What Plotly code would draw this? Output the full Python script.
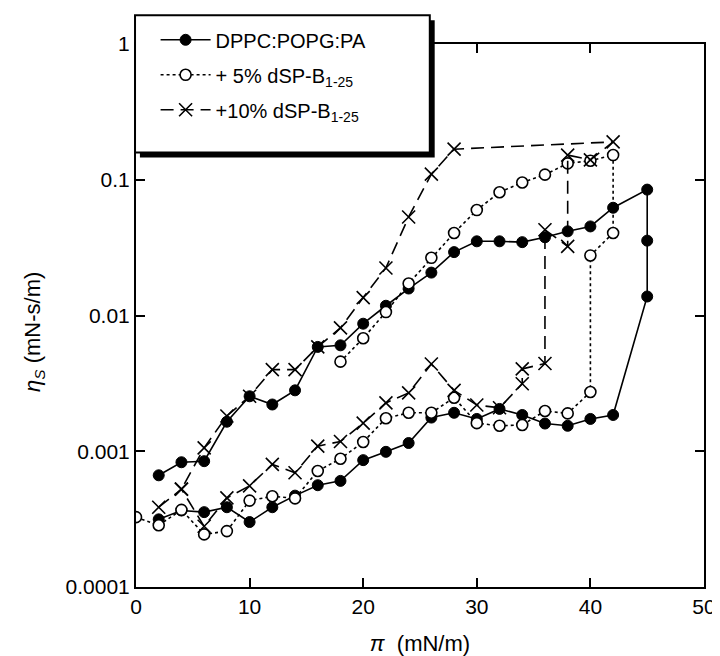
import plotly.graph_objects as go

# DPPC:POPG:PA (lower branch, jump at 45, upper branch back)
black_x = [2, 4, 6, 8, 10, 12, 14, 16, 18, 20, 22, 24, 26, 28, 30, 32, 34, 36, 38, 40, 42,
           45, 45, 45,
           42, 40, 38, 36, 34, 32, 30, 28, 26, 24, 22, 20, 18, 16, 14, 12, 10, 8, 6, 4, 2]
black_y = [0.000315, 0.000366, 0.000356, 0.000387, 0.000301, 0.000387, 0.000471, 0.000562,
           0.000605, 0.00086, 0.00099, 0.00115, 0.00177, 0.00192, 0.00173, 0.00205, 0.00185,
           0.0016, 0.00154, 0.00173, 0.00185,
           0.0138, 0.0356, 0.0846,
           0.0622, 0.0453, 0.0417, 0.0377, 0.0347, 0.0352, 0.0352, 0.0293, 0.0207, 0.0158,
           0.0118, 0.0087, 0.00603, 0.00587, 0.00281, 0.00221, 0.00254, 0.00165, 0.000845,
           0.00083, 0.000665]

# + 5% dSP-B1-25
white_x = [0, 2, 4, 6, 8, 10, 12, 14, 16, 18, 20, 22, 24, 26, 28, 30, 32, 34, 36, 38, 40,
           40, 42, 42,
           40, 38, 36, 34, 32, 30, 28, 26, 24, 22, 20, 18]
white_y = [0.000327, 0.000285, 0.00037, 0.000244, 0.000258, 0.000433, 0.000466, 0.00045,
           0.000716, 0.00088, 0.00117, 0.00175, 0.00192, 0.00192, 0.00248, 0.00161, 0.00154,
           0.00156, 0.00198, 0.0019, 0.00273,
           0.0277, 0.0405, 0.152,
           0.138, 0.132, 0.109, 0.0955, 0.0809, 0.0598, 0.0405, 0.0266, 0.0172, 0.0106,
           0.0068, 0.00457]

# +10% dSP-B1-25
cross_x = [2, 4, 6, 8, 10, 12, 14, 16, 18, 20, 22, 24, 26, 28, 30, 32,
           34, 34, 36, 36, 38, 38, 40, 42,
           28, 26, 24, 22, 20, 18, 16, 14, 12, 10, 8, 6, 4]
cross_y = [0.000387, 0.000526, 0.00028, 0.000453, 0.000556, 0.0008, 0.000695, 0.00109,
           0.00118, 0.00161, 0.00227, 0.00269, 0.00439, 0.00281, 0.00219, 0.00209,
           0.00314, 0.00404, 0.00443, 0.0428, 0.0323, 0.152, 0.14, 0.19,
           0.168, 0.110, 0.0532, 0.0224, 0.01355, 0.0081, 0.00587, 0.00399, 0.00399,
           0.00254, 0.00182, 0.00106, 0.000526]

x_ticks = [0, 10, 20, 30, 40, 50]
y_ticks = [0.0001, 0.001, 0.01, 0.1, 1]
y_tick_text = ["0.0001", "0.001", "0.01", "0.1", "1"]

names = ["DPPC:POPG:PA", "+ 5% dSP-B<sub>1-25</sub>", "+10% dSP-B<sub>1-25</sub>"]

FONT = "Liberation Sans, Arial, sans-serif"

fig = go.Figure()
fig.add_trace(go.Scatter(
    x=black_x, y=black_y, name=names[0], mode="lines+markers", legendgroup="a",
    line=dict(color="black", width=1.6),
    marker=dict(symbol="circle", size=11, color="black", line=dict(color="black", width=1)),
))
fig.add_trace(go.Scatter(
    x=white_x, y=white_y, name=names[1], mode="lines+markers", legendgroup="b",
    line=dict(color="black", width=1.6, dash="dot"),
    marker=dict(symbol="circle", size=11, color="white", line=dict(color="black", width=1.6)),
))
fig.add_trace(go.Scatter(
    x=cross_x, y=cross_y, name=names[2], mode="lines+markers", legendgroup="c",
    line=dict(color="black", width=1.6, dash="13px,7px"),
    marker=dict(symbol="x-thin", size=13, color="black", line=dict(color="black", width=1.6)),
))

# legend box with drop shadow
L, R, T, B = 127, 428, 3, 142
PX0, PW, PY0, PH = 128, 580, 582, 550
def px(xp):
    return (xp - PX0) / PW
def py(yp):
    return (PY0 - yp) / PH
fig.add_shape(type="rect", xref="paper", yref="paper", layer="above",
              x0=px(L + 5), x1=px(R + 5), y0=py(B + 5), y1=py(T + 5),
              fillcolor="black", line=dict(color="black", width=0))
fig.add_shape(type="rect", xref="paper", yref="paper", layer="above",
              x0=px(L), x1=px(R), y0=py(B), y1=py(T),
              fillcolor="white", line=dict(color="black", width=2))

# y-axis title as annotation (slightly below centre, as in the original)
fig.add_annotation(xref="paper", yref="paper", x=px(24), y=0.47, showarrow=False,
                   textangle=-90, xanchor="center", yanchor="middle",
                   text="<i>η</i><sub><i>S</i></sub> (mN-s/m)",
                   font=dict(family=FONT, size=22, color="black"))

fig.update_layout(
    width=720, height=656,
    margin=dict(l=128, r=12, t=32, b=74),
    paper_bgcolor="white", plot_bgcolor="white",
    font=dict(family=FONT, size=21, color="black"),
    showlegend=True,
    legend=dict(x=px(148), y=py(8), xanchor="left", yanchor="top",
                bgcolor="rgba(0,0,0,0)", borderwidth=0,
                font=dict(family=FONT, size=20, color="black"),
                tracegroupgap=6, itemwidth=50),
    xaxis=dict(range=[0, 50], tickvals=x_ticks, ticks="inside", ticklen=9, tickwidth=1.5,
               tickcolor="black", showline=True, linecolor="black", linewidth=2,
               mirror="ticks", showgrid=False, zeroline=False,
               tickfont=dict(family=FONT, size=21),
               title=dict(text="<i>π</i>  (mN/m)", font=dict(family=FONT, size=22), standoff=18)),
    yaxis=dict(type="log", range=[-4, 0], tickvals=y_ticks, ticktext=y_tick_text,
               ticks="inside", ticklen=9, tickwidth=1.5, tickcolor="black",
               showline=True, linecolor="black", linewidth=2, mirror="ticks",
               showgrid=False, zeroline=False, tickfont=dict(family=FONT, size=21)),
)

fig.write_html("out.html")
